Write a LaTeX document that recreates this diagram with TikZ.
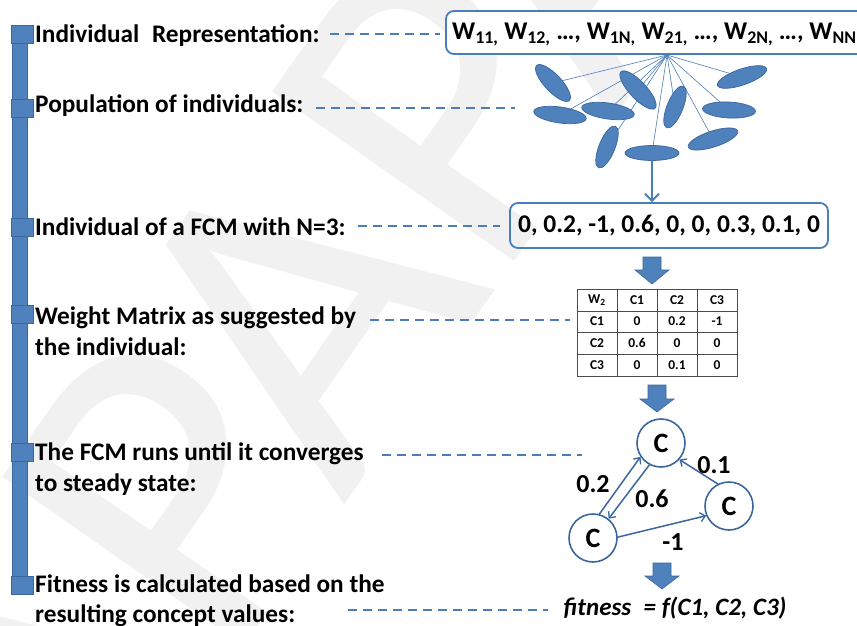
\documentclass[tikz,border=0pt]{standalone}
\usepackage{fontspec}
\setmainfont{Carlito}
\usetikzlibrary{arrows.meta,shapes.geometric}

\definecolor{fillblue}{HTML}{4F81BD}
\definecolor{edgeblue}{HTML}{3B679E}
\definecolor{lineblue}{HTML}{4A7EBB}
\definecolor{markgray}{HTML}{F1F1F1}

\tikzset{
  caption/.style={anchor=base west, inner sep=0pt, font=\fontsize{25.3}{30}\selectfont\bfseries},
  leader/.style={draw=lineblue, line width=1.3pt, dash pattern=on 9pt off 6pt},
  railsq/.style={fill=fillblue, draw=edgeblue, line width=0.8pt},
  seed/.style={fill=fillblue, draw=edgeblue, line width=0.7pt},
  ray/.style={draw=lineblue, line width=0.6pt},
  roundbox/.style={draw=lineblue, line width=1.8pt, rounded corners=8pt, fill=white},
  blockarrow/.style={fill=fillblue, draw=edgeblue, line width=0.6pt},
  concept/.style={circle, draw=edgeblue, line width=1.6pt, minimum size=48pt, inner sep=0pt,
                  font=\fontsize{28}{28}\selectfont\bfseries, fill=white},
  link/.style={draw=edgeblue, line width=1.5pt, -{Straight Barb[length=5pt,width=9pt,line width=1.3pt]}},
  weight/.style={font=\fontsize{26}{26}\selectfont\bfseries, inner sep=0pt},
  cell/.style={font=\fontsize{13.5}{14}\selectfont\bfseries, inner sep=0pt},
}

\newcommand{\downblock}[4]{% x, top, shaft end, tip
  \path[blockarrow] (#1-9,#2) -- (#1+9,#2) -- (#1+9,#3) -- (#1+17,#3) -- (#1,#4)
     -- (#1-17,#3) -- (#1-9,#3) -- cycle;}

\begin{document}
\begin{tikzpicture}[x=1pt,y=-1pt]
\useasboundingbox (0,0) rectangle (857,626);
\fill[white] (0,0) rectangle (857,626);

% faint watermark lettering
\node[text=markgray, rotate=55, anchor=base west, inner sep=0pt,
      font=\fontsize{460}{460}\selectfont] (mark) at (73,892) {APAPA};

% timeline rail with its step markers
\path[railsq] (12,28) rectangle (27,592);
\foreach \yy in {34,108,227,314,452,585}
  \path[railsq] (11,\yy-9) rectangle (33,\yy+9);

% step captions
\node[caption] (s1) at (35,43) {Individual\enspace Representation:};
\node[caption] (s2) at (35,113) {Population of individuals:};
\node[caption] (s3) at (35,235) {Individual of a FCM with N=3:};
\node[caption] (s4) at (35,324) {Weight Matrix as suggested by};
\node[caption] (s4b) at (35,355) {the individual:};
\node[caption] (s5) at (35,460) {The FCM runs until it converges};
\node[caption] (s5b) at (35,491) {to steady state:};
\node[caption] (s6) at (35,592) {Fitness is calculated based on the};
\node[caption] (s6b) at (35,622) {resulting concept values:};

% leader lines
\coordinate (d1a) at (330,34);  \coordinate (d1b) at (440,34);
\coordinate (d2a) at (316,108); \coordinate (d2b) at (515,108);
\coordinate (d3a) at (358,226); \coordinate (d3b) at (500,226);
\coordinate (d4a) at (370,320); \coordinate (d4b) at (570,320);
\coordinate (d5a) at (382,455); \coordinate (d5b) at (582,455);
\coordinate (d6a) at (348,610); \coordinate (d6b) at (548,610);
\foreach \i in {1,...,6} \draw[leader] (d\i a) -- (d\i b);

% representation box
\path[roundbox] (446,11) rectangle (880,54);
\node[anchor=base west, inner sep=0pt, font=\fontsize{25.5}{25}\selectfont\bfseries] (rep) at (452,40)
  {W\textsubscript{11,} W\textsubscript{12,} \dots, W\textsubscript{1N,} W\textsubscript{21,} \dots, W\textsubscript{2N,} \dots, W\textsubscript{NN}};
\coordinate (apex) at (667,55);

% population of individuals
\def\seeds{553/83/-47/24/8.5, 560/115/-8/26.5/8, 608/111/-8/26.5/8, 638/90/-47/25/8.5,
   675/107/68/22.5/8, 742/77/19/26/8, 729/110/-3/26.5/8, 607/147/68/22.5/8,
   652/153/0/27/7.5, 713/139/18/26/8}
\foreach \cx/\cy/\ang/\ra/\rb [count=\k] in \seeds
  \coordinate (e\k) at (\cx,\cy);
\foreach \k in {1,...,10} \draw[ray] (apex) -- (e\k);
\foreach \cx/\cy/\ang/\ra/\rb in \seeds
  \path[seed, rotate around={\ang:(\cx,\cy)}] (\cx,\cy) ellipse [x radius=\ra, y radius=\rb];

% chosen individual
\node[draw=lineblue, line width=1.8pt, rounded corners=8pt, minimum width=318pt, minimum height=45pt,
      font=\fontsize{25.5}{26}\selectfont\bfseries, inner sep=0pt] (ind) at (669,225.5)
  {0, 0.2, -1, 0.6, 0, 0, 0.3, 0.1, 0};
\coordinate (pick) at (652,160);
\draw[lineblue, line width=2pt, -{Straight Barb[length=7pt,width=14pt,line width=2pt]}] (pick) -- (pick |- ind.north);

\downblock{652}{257}{270}{284}

% weight matrix
\draw[black!70, line width=0.8pt] (577,289) rectangle (737,376);
\foreach \xx in {617,657,697} \draw[black!70, line width=0.8pt] (\xx,289) -- (\xx,376);
\foreach \yy in {311,332.5,354} \draw[black!70, line width=0.8pt] (577,\yy) -- (737,\yy);
\foreach \r/\yy in {0/300,1/321.5,2/343,3/365}
  \foreach \c/\xx in {0/597,1/637,2/677,3/717}
    \coordinate (m\r\c) at (\xx,\yy);
\node[cell] at (m00) {W\textsubscript{2}};
\node[cell] at (m01) {C1}; \node[cell] at (m02) {C2}; \node[cell] at (m03) {C3};
\node[cell] at (m10) {C1}; \node[cell] at (m11) {0};   \node[cell] at (m12) {0.2}; \node[cell] at (m13) {-1};
\node[cell] at (m20) {C2}; \node[cell] at (m21) {0.6}; \node[cell] at (m22) {0};   \node[cell] at (m23) {0};
\node[cell] at (m30) {C3}; \node[cell] at (m31) {0};   \node[cell] at (m32) {0.1}; \node[cell] at (m33) {0};

\downblock{657}{385}{399}{412}

% the fuzzy cognitive map
\node[concept] (ct) at (661,443) {C};
\node[concept] (cr) at (729,506) {C};
\node[concept] (cl) at (593,538) {C};
\draw[link] (cl.75) -- (ct.214);
\draw[link] (ct.242) -- (cl.51);
\draw[link] (cr.117) -- (ct.-42);
\draw[link] (cl.2) -- (cr.203);
\node[weight] (w02) at (593,484) {0.2};
\node[weight] (w06) at (652,499) {0.6};
\node[weight] (w01) at (714,465) {0.1};
\node[weight] (wm1) at (673,542) {-1};

\downblock{662}{563}{576}{589}

% fitness
\node[font=\fontsize{25}{25}\selectfont\bfseries\itshape, inner sep=0pt] (fit) at (675,608)
  {fitness\enspace= f(C1, C2, C3)};
\end{tikzpicture}
\end{document}
